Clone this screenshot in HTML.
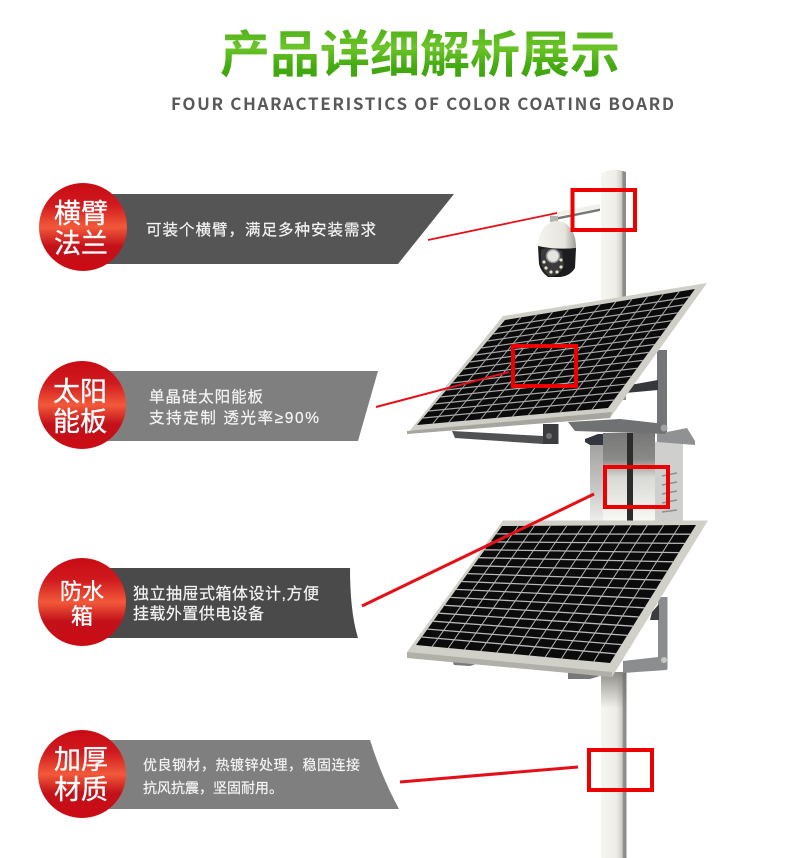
<!DOCTYPE html>
<html><head><meta charset="utf-8">
<style>
html,body{margin:0;padding:0;background:#fff;width:790px;height:858px;overflow:hidden}
svg{display:block}
text{font-family:"Liberation Sans","Noto Sans CJK SC",sans-serif}
.c{fill:#fff;font-size:27px;text-anchor:middle;stroke:#fff;stroke-width:.35px}
.t{fill:#f4f4f4;font-size:15.5px;stroke:#f4f4f4;stroke-width:.2px}
</style></head><body>
<svg width="790" height="858" viewBox="0 0 790 858" xmlns="http://www.w3.org/2000/svg">
<defs>
<linearGradient id="g" x1="0" y1="0" x2="0" y2="1">
<stop offset="0" stop-color="#3aa30c"/><stop offset=".45" stop-color="#6cc428"/><stop offset=".7" stop-color="#45ab12"/><stop offset="1" stop-color="#38a008"/>
</linearGradient>
<linearGradient id="r" x1="0" y1="0" x2="0" y2="1">
<stop offset="0" stop-color="#c90b14"/><stop offset=".25" stop-color="#cf1a1e"/><stop offset=".5" stop-color="#f2593a"/><stop offset=".72" stop-color="#c2111a"/><stop offset="1" stop-color="#cc0b14"/>
</linearGradient>
<linearGradient id="p" x1="0" y1="0" x2="1" y2="0">
<stop offset="0" stop-color="#f6f5f0"/><stop offset=".6" stop-color="#efeee6"/><stop offset=".82" stop-color="#d0cfc6"/><stop offset=".88" stop-color="#8e8e8a"/><stop offset="1" stop-color="#8a8a86"/>
</linearGradient>
<linearGradient id="pshade" x1="0" y1="0" x2="0" y2="1">
<stop offset="0" stop-color="#6f6f6a" stop-opacity=".75"/><stop offset="1" stop-color="#6f6f6a" stop-opacity="0"/>
</linearGradient>
<linearGradient id="box" x1="0" y1="0" x2="0" y2="1">
<stop offset="0" stop-color="#777"/><stop offset=".3" stop-color="#8a8a88"/><stop offset=".5" stop-color="#d8d8d4"/><stop offset="1" stop-color="#f8f8f4"/>
</linearGradient>
<linearGradient id="boxs" x1="0" y1="0" x2="0" y2="1">
<stop offset="0" stop-color="#a0a0a0"/><stop offset=".6" stop-color="#c8c8c6"/><stop offset="1" stop-color="#eeeeec"/>
</linearGradient>
<linearGradient id="dome" x1="0" y1="0" x2="1" y2="0">
<stop offset="0" stop-color="#f4f3ee"/><stop offset=".7" stop-color="#e6e5df"/><stop offset="1" stop-color="#9c9c98"/>
</linearGradient>
</defs>

<!-- header -->
<text x="220" y="72" font-size="50" font-weight="700" fill="url(#g)" textLength="400" lengthAdjust="spacing" style="font-family:'Noto Sans CJK SC',sans-serif">产品详细解析展示</text>
<text x="171" y="110" font-size="17" font-weight="700" fill="#595959" textLength="503" lengthAdjust="spacing" style="font-family:'Noto Sans CJK SC',sans-serif">FOUR CHARACTERISTICS OF COLOR COATING BOARD</text>

<!-- pole -->
<path d="M601 173 Q613 167 626 172 V400 H601Z" fill="url(#p)"/>
<rect x="601" y="672" width="25.500" height="186" fill="url(#p)"/>
<rect x="601" y="672" width="25.500" height="36" fill="url(#pshade)"/>

<!-- arm + camera -->
<path d="M557 212 L600 204 L600 208 L557 216Z" fill="#f0f0ea"/>
<path d="M558 217 L600 208.500 L600 211 L558 219.500Z" fill="#77787a"/>
<rect x="550" y="216" width="8" height="6" fill="#b5b5b0"/>
<path d="M538 247 C538 230 548 221 557 221 C568 221 576 232 576 247 L576 250 L538 247Z" fill="url(#dome)"/>
<path d="M538 246 Q556 250 576 248 L575 268 Q570 276 560 277 L548 277 Q541 272 539 264Z" fill="#1d1d1f"/>
<path d="M541 250 Q548 246 562 251 L564 266 Q560 276 549 276 Q542 270 541 262Z" fill="#3a3a3c"/>
<circle cx="553" cy="256" r="6.500" fill="#e4e4e0" stroke="#8d8d8d" stroke-width="1.500"/>
<g fill="#e6e0c4"><circle cx="544" cy="262" r="1.600"/><circle cx="546" cy="268" r="1.600"/><circle cx="551" cy="272" r="1.600"/><circle cx="557" cy="272" r="1.600"/><circle cx="561" cy="267" r="1.600"/><circle cx="561" cy="260" r="1.600"/></g>

<!-- box -->
<path d="M590 442 H603 V521 H590Z" fill="url(#boxs)"/>
<rect x="655" y="442" width="28" height="79" fill="#cfcfcd"/>
<rect x="603" y="433" width="24" height="88" fill="url(#box)"/>
<rect x="627" y="433" width="6" height="88" fill="#2c2c2c"/>
<rect x="633" y="433" width="22" height="88" fill="url(#box)"/>
<path d="M585 442 L585 439 L598 434 H603 V445 L590 445Z" fill="#33363f"/>
<path d="M657 434 L687 428 L695 441 L695 445 L657 442Z" fill="#8f9193"/>
<g stroke="#8f8f8f" stroke-width="1.500"><path d="M662 476 L677 473M662 485 L677 482M662 494 L677 491M662 503 L677 500M662 512 L677 510"/></g>

<!-- upper panel brackets -->
<rect x="657" y="350" width="10" height="82" fill="#737578"/>
<path d="M630 385 L658 380 V390 L625 393Z" fill="#35373a"/>
<path d="M568 422 L620 419 L665 424 L666 434 L575 431Z" fill="#6f7173"/>
<circle cx="664" cy="428" r="3.500" fill="#a0a2a2"/>
<path d="M452 431 L543 436 V444 L455 438Z" fill="#4f5153"/>
<rect x="543" y="424" width="15.500" height="20" fill="#3a3c3e"/>
<circle cx="549" cy="436" r="3" fill="#6f7072"/>

<!-- upper panel -->
<path d="M503 316 L707 283 L610 418 L407 434Z" fill="#cfcfc7"/>
<path d="M407 431 L612 412 L610 418 L407 434Z" fill="#a6a69f"/>
<path d="M505 320 L695 289 L608 408 L417 425Z" fill="#0b0b0c"/>
<path stroke="#a4a4a4" stroke-width="1" fill="none" d="M520.800 317.400L432.900 423.600M536.700 314.800L448.800 422.200M552.500 312.300L464.800 420.700M568.300 309.700L480.700 419.300M584.200 307.100L496.600 417.900M600 304.500L512.500 416.500M615.800 301.900L528.400 415.100M631.700 299.400L544.400 413.600M647.500 296.800L560.300 412.200M663.300 294.200L576.200 410.800M679.200 291.600L592.100 409.400"/>
<path stroke="#a8a8a8" stroke-width="1.200" fill="none" d="M499.100 327L689.200 296.900M493.300 334L683.400 304.900M487.400 341L677.600 312.800M481.500 348L671.800 320.700M475.700 355L666 328.700M469.800 362L660.200 336.600M463.900 369L654.400 344.500M458 376L648.600 352.400M452.200 383L642.800 360.400M446.300 390L637 368.300M440.400 397L631.200 376.200M434.600 404L625.400 384.200M428.700 411L619.600 392.100M422.800 418L613.800 400"/>

<!-- lower panel brackets -->
<rect x="658" y="597" width="9.500" height="72" fill="#8a8c8e"/>
<path d="M652 612 L659 604 V620 L650 620Z" fill="#3a3c3e"/>
<path d="M623 661 L667 656 V670 L623 673Z" fill="#8b8d8e"/>
<circle cx="664" cy="660" r="3" fill="#c6c6c4"/>
<path d="M452 660 L482 662 L470 666 L454 665Z" fill="#77797b"/>
<path d="M568 672 L600 676 L590 679 L568 679Z" fill="#76787a"/>

<!-- lower panel -->
<path d="M503 520.500 L708 520.500 L612 677 L407 656 L407 652Z" fill="#d0d0c8"/>
<path d="M407 652 L612 672 L612 677 L407 658Z" fill="#b0b0a8"/>
<path d="M502 526 L696 525 L610 663 L416 645Z" fill="#0b0b0c"/>
<path stroke="#b4b4b4" stroke-width="1" fill="none" d="M518.200 526L432.200 646.500M534.300 526L448.300 648M550.500 526L464.500 649.500M566.700 526L480.700 651M582.800 526L496.800 652.500M599 525L513 654M615.200 525L529.200 655.500M631.300 525L545.300 657M647.500 525L561.500 658.500M663.700 525L577.700 660M679.800 525L593.800 661.500"/>
<path stroke="#b8b8b8" stroke-width="1.300" fill="none" d="M496.300 533.900L690.300 534.200M490.500 541.900L684.500 543.400M484.800 549.800L678.800 552.600M479.100 557.700L673.100 561.800M473.400 565.700L667.400 571M467.600 573.600L661.600 580.200M461.900 581.500L655.900 589.400M456.200 589.400L650.200 598.600M450.400 597.400L644.400 607.800M444.700 605.300L638.700 617M439 613.200L633 626.200M433.200 621.200L627.200 635.400M427.500 629.100L621.500 644.600M421.800 637L615.800 653.800"/>

<!-- banners -->
<path d="M100 194 H454 L398 264 H100Z" fill="#555556"/>
<path d="M100 371 H378 L358 441 H100Z" fill="#7f7f7f"/>
<path d="M100 568 H350 Q350 612 358 638 H100Z" fill="#4a4a4b"/>
<path d="M100 740 H370 Q382 778 399 809 H100Z" fill="#7f7f7f"/>

<circle cx="83" cy="227" r="44" fill="url(#r)"/>
<circle cx="82" cy="405" r="44" fill="url(#r)"/>
<circle cx="82" cy="602" r="44" fill="url(#r)"/>
<circle cx="82" cy="774" r="44" fill="url(#r)"/>

<!-- circle labels -->
<text class="c" x="81" y="223">横臂</text>
<text class="c" x="81" y="253">法兰</text>
<text class="c" x="80" y="401">太阳</text>
<text class="c" x="80" y="431">能板</text>
<text class="c" x="82" y="599" style="font-size:22px">防水</text>
<text class="c" x="82" y="624" style="font-size:22px">箱</text>
<text class="c" x="81" y="769">加厚</text>
<text class="c" x="81" y="799">材质</text>

<!-- banner text -->
<text class="t" x="146" y="235" textLength="230" lengthAdjust="spacing">可装个横臂，满足多种安装需求</text>
<text class="t" x="149" y="402" textLength="114" lengthAdjust="spacing">单晶硅太阳能板</text>
<text class="t" x="149" y="423" textLength="170" lengthAdjust="spacing">支持定制 透光率≥90%</text>
<text class="t" x="133" y="599" textLength="186" lengthAdjust="spacing" style="font-size:16px">独立抽屉式箱体设计,方便</text>
<text class="t" x="133" y="619" textLength="131" lengthAdjust="spacing" style="font-size:16px">挂载外置供电设备</text>
<text class="t" x="143" y="770" textLength="217" lengthAdjust="spacing" style="font-size:14px">优良钢材，热镀锌处理，稳固连接</text>
<text class="t" x="143" y="793" textLength="140" lengthAdjust="spacing" style="font-size:14px">抗风抗震，坚固耐用。</text>

<!-- red connectors -->
<g fill="none" stroke="#e60f17">
<path d="M428 240 L557 213" stroke-width="1.800"/>
<path d="M376 407 L509 372" stroke-width="2"/>
<path d="M362 606 L594 494" stroke-width="3"/>
<path d="M400 782 L578 767" stroke-width="3"/>
</g>
<g fill="none" stroke="#ee0000" stroke-width="4">
<rect x="572.500" y="190" width="62.500" height="40"/>
<rect x="513" y="346" width="63" height="40"/>
<rect x="605" y="467" width="63" height="40"/>
<rect x="589" y="750" width="63" height="40"/>
</g>
</svg>
</body></html>
